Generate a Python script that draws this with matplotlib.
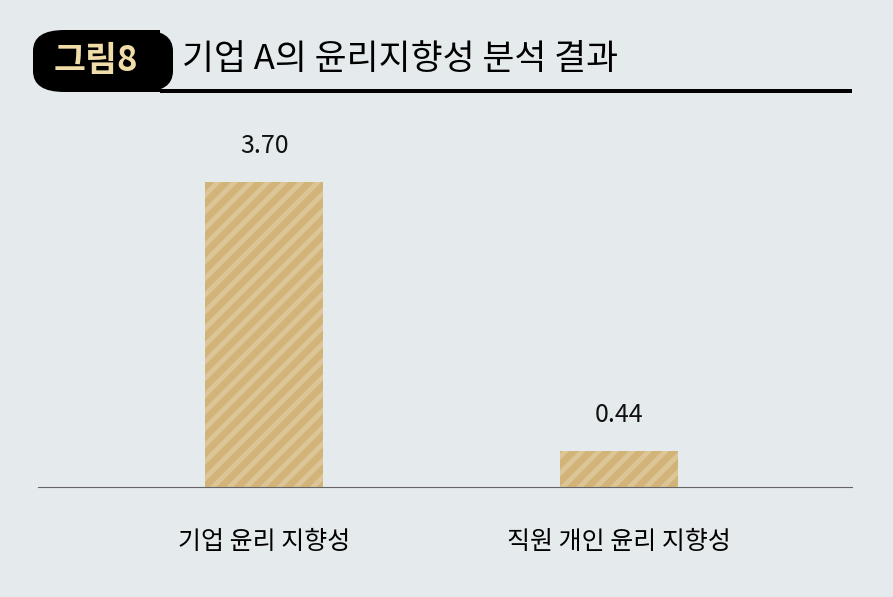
import matplotlib
matplotlib.use('Agg')
import matplotlib.pyplot as plt
from matplotlib.patches import FancyBboxPatch, Rectangle

plt.rcParams['font.family'] = 'Noto Sans CJK KR'
plt.rcParams['hatch.linewidth'] = 3.5

categories = ['기업 윤리 지향성', '직원 개인 윤리 지향성']
values = [3.70, 0.44]
labels = ['3.70', '0.44']

bg = '#e5eaed'
fig = plt.figure(figsize=(8.93, 5.97), dpi=100, facecolor=bg)
ax = fig.add_axes([38/893, 1-487/597, (852-38)/893, (487-100)/597])
ax.set_facecolor(bg)

x = range(len(categories))
bars = ax.bar(x, values, width=0.332, color='#d3b478', edgecolor='#dcc597',
              linewidth=0, hatch='//')
for b, t in zip(bars, labels):
    ax.text(b.get_x() + b.get_width()/2, b.get_height() + 0.28, t,
            ha='center', va='bottom', fontsize=18, color='#111111')

ax.set_xlim(-0.637, 1.656)
ax.set_ylim(0, (487-100)/82.4)
ax.set_xticks(list(x))
ax.set_xticklabels(categories, fontsize=18)
ax.tick_params(axis='x', length=0, pad=30)
ax.set_yticks([])
for s in ['top', 'right', 'left']:
    ax.spines[s].set_visible(False)
ax.spines['bottom'].set_color('#666666')
ax.spines['bottom'].set_linewidth(0.8)

# header
W, H = 893, 597
badge = FancyBboxPatch((33/W, 1-92/H), 140/W, 62/H,
                       boxstyle='round,pad=0,rounding_size=0.035',
                       transform=fig.transFigure, facecolor='black', edgecolor='none')
fig.patches.append(badge)
fig.patches.append(Rectangle((120/W, 1-92/H), 40/W, 62/H, transform=fig.transFigure,
                             facecolor='black', edgecolor='none'))
fig.patches.append(Rectangle((160/W, 1-93/H), 692/W, 4/H, transform=fig.transFigure,
                             facecolor='black', edgecolor='none'))
fig.text(96/W, 1-61/H, '그림8', ha='center', va='center', fontsize=25,
         fontweight='bold', color='#f0dca8')
fig.text(182/W, 1-60/H, '기업 A의 윤리지향성 분석 결과', ha='left', va='center',
         fontsize=25, fontweight='medium', color='black')

fig.savefig('out.png', dpi=100, facecolor=bg)
